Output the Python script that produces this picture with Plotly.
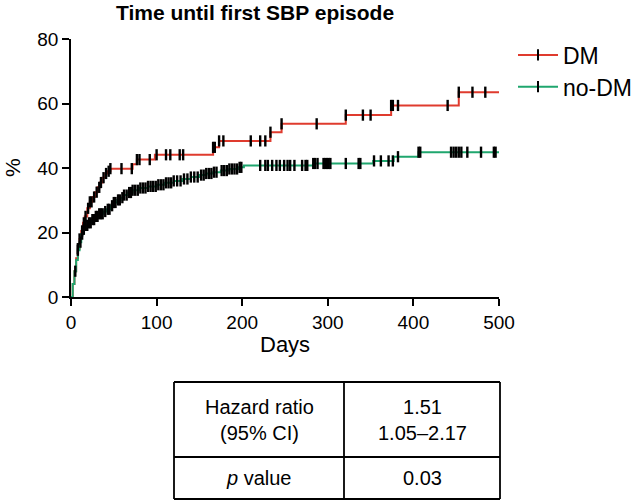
import numpy as np
import plotly.graph_objects as go

# ---------------- data ----------------
# cumulative incidence (%) step curves: event days and value after each step
dm_days = [0, 2, 4, 6, 8, 10, 12, 14, 16, 19, 22, 25, 28, 31, 34, 37, 40, 43, 46,
           72, 77, 98, 166, 173, 233, 246, 321, 374, 453, 500]
dm_pct = [0, 4, 8, 12, 15, 18, 20.5, 23, 25, 27.5, 29.5, 31, 32.5, 34, 35.5, 37, 38.3, 39, 39.8,
          41.2, 42.6, 44.1, 46.4, 48.4, 51.1, 53.7, 56.4, 59.4, 63.5, 63.5]

nodm_days = [0, 2, 4, 6, 8, 10, 12, 14, 17, 20, 24, 28, 33, 38, 42, 46, 50, 54, 58, 62, 66,
             72, 80, 90, 100, 110, 120, 130, 140, 150, 158, 166, 175, 185, 195, 202, 283,
             353, 377, 406, 500]
nodm_pct = [0, 4, 8, 11.5, 14.5, 17, 19.5, 21, 22.2, 23, 24, 25, 25.8, 26.5, 27.2, 28.3, 29.3,
            30.1, 30.8, 31.6, 32.4, 33.1, 33.8, 34.3, 34.8, 35.4, 36, 36.6, 37.2, 37.8, 38.3,
            38.7, 39.2, 39.7, 40.2, 40.8, 41.4, 42.2, 43.5, 44.9, 44.9]

# censoring days
dm_censor = [5, 8, 10, 13, 15, 17, 20, 22, 24, 27, 30, 33, 35, 38, 41, 44, 46,
             59, 71, 77, 80, 92, 100, 111, 116, 127, 131, 166, 168, 173, 178, 210, 221,
             227, 233, 246, 287, 321, 341, 350, 374, 376, 382, 440, 453, 469, 484]
nodm_censor = [8, 11, 13, 15, 17, 19, 21, 23, 25, 27, 29, 31, 33, 35, 37, 40, 43, 45, 48,
               50, 52, 55, 57, 60, 62, 65, 68, 70, 72, 75, 78, 81, 84, 87, 90, 93, 96, 99,
               102, 105, 108, 111, 114, 117, 120, 124, 128, 132, 136, 140, 144, 148, 152,
               155, 158, 161, 164, 167, 170, 176, 179, 182, 185, 188, 191, 194, 197, 199,
               221, 227, 230, 235, 240, 244, 249, 253, 256, 261, 270, 274, 276, 283, 285,
               288, 295, 297, 299, 301, 303, 321, 336, 338, 354, 362, 371, 376, 382, 406,
               408, 444, 447, 450, 453, 456, 463, 479, 494, 496]

series_names = ["DM", "no-DM"]
series_colors = ["#DF3B2E", "#1FA66E"]

x_ticks = [0, 100, 200, 300, 400, 500]
y_ticks = [0, 20, 40, 60, 80]

table_labels = ["Hazard ratio<br>(95% CI)", "<i>p</i> value"]
table_values = ["1.51<br>1.05–2.17", "0.03"]

title_text = "<b>Time until first SBP episode</b>"
x_title = "Days"
y_title = "%"


def step_value(days, pct, t):
    days = np.asarray(days, float)
    pct = np.asarray(pct, float)
    idx = np.searchsorted(days, np.asarray(t, float), side="right") - 1
    return pct[np.clip(idx, 0, len(pct) - 1)]


FONT = "Liberation Sans, Arial, Helvetica, sans-serif"
fig = go.Figure()

curves = [(dm_days, dm_pct, dm_censor), (nodm_days, nodm_pct, nodm_censor)]
for (days, pct, cens), name, col in zip(curves, series_names, series_colors):
    fig.add_trace(go.Scatter(x=days, y=pct, mode="lines", line=dict(color=col, width=2, shape="hv"),
                             showlegend=False, hoverinfo="skip"))
for (days, pct, cens), name, col in zip(curves, series_names, series_colors):
    fig.add_trace(go.Scatter(x=cens, y=step_value(days, pct, cens), mode="markers",
                             marker=dict(symbol="line-ns", size=8, line=dict(color="black", width=2.4)),
                             showlegend=False, hoverinfo="skip"))
legend_ids = ["legend", "legend2"]
for name, col, lg in zip(series_names, series_colors, legend_ids):
    fig.add_trace(go.Scatter(x=[None], y=[None], mode="lines+markers", name=name, legend=lg,
                             line=dict(color=col, width=2),
                             marker=dict(symbol="line-ns", size=8, line=dict(color="black", width=2))))

L, R, T, B = 71, 134, 39, 204
W, H = 633, 501
pw, ph = W - L - R, H - T - B


def px(xp):
    return (xp - L) / pw


def py(yp):
    return (H - B - yp) / ph


shapes = []
line = dict(color="black", width=1.8)
tbl_left, tbl_mid, tbl_right = 174, 344, 500
tbl_top, tbl_row, tbl_bot = 382, 457, 499
for y0 in (tbl_top, tbl_row, tbl_bot):
    shapes.append(dict(type="line", xref="paper", yref="paper", x0=px(tbl_left), x1=px(tbl_right),
                       y0=py(y0), y1=py(y0), line=line))
for x0 in (tbl_left, tbl_mid, tbl_right):
    shapes.append(dict(type="line", xref="paper", yref="paper", x0=px(x0), x1=px(x0),
                       y0=py(tbl_top), y1=py(tbl_bot), line=line))

annotations = []
row_centers = [(tbl_top + tbl_row) / 2, (tbl_row + tbl_bot) / 2]
for lab, val, rc in zip(table_labels, table_values, row_centers):
    annotations.append(dict(text=lab, xref="paper", yref="paper", x=px((tbl_left + tbl_mid) / 2),
                            y=py(rc), xanchor="center", yanchor="middle", showarrow=False,
                            font=dict(family=FONT, size=20, color="black")))
    annotations.append(dict(text=val, xref="paper", yref="paper", x=px((tbl_mid + tbl_right) / 2),
                            y=py(rc), xanchor="center", yanchor="middle", showarrow=False,
                            font=dict(family=FONT, size=20, color="black")))
annotations.append(dict(text=y_title, xref="paper", yref="paper", x=px(12), y=py(168),
                        xanchor="center", yanchor="middle", textangle=-90, showarrow=False,
                        font=dict(family=FONT, size=21, color="black")))
annotations.append(dict(text=x_title, xref="paper", yref="paper", x=px(285), y=py(345),
                        xanchor="center", yanchor="middle", showarrow=False,
                        font=dict(family=FONT, size=22, color="black")))

axis_common = dict(showline=True, linecolor="black", linewidth=1.5, ticks="outside", ticklen=7,
                   tickwidth=1.5, tickcolor="black", showgrid=False, zeroline=False,
                   tickfont=dict(family=FONT, size=19, color="black"))

legend_style = dict(xanchor="left", yanchor="middle", itemwidth=40,
                    font=dict(family=FONT, size=23, color="black"), bgcolor="rgba(0,0,0,0)")

fig.update_layout(
    width=W, height=H,
    margin=dict(l=L, r=R, t=T, b=B, autoexpand=False),
    paper_bgcolor="white", plot_bgcolor="white",
    title=dict(text=title_text, x=(255) / W, xanchor="center", y=1 - 13 / H, yanchor="middle",
               font=dict(family=FONT, size=21, color="black")),
    xaxis=dict(range=[0, 500], tickvals=x_ticks, **axis_common),
    yaxis=dict(range=[0, 80], tickvals=y_ticks, **axis_common),
    legend=dict(x=px(513), y=py(55), **legend_style),
    legend2=dict(x=px(513), y=py(86.7), **legend_style),
    shapes=shapes, annotations=annotations,
)

fig.write_html("out.html", config={"displayModeBar": False},
               post_script="document.body.style.margin='0px';")
